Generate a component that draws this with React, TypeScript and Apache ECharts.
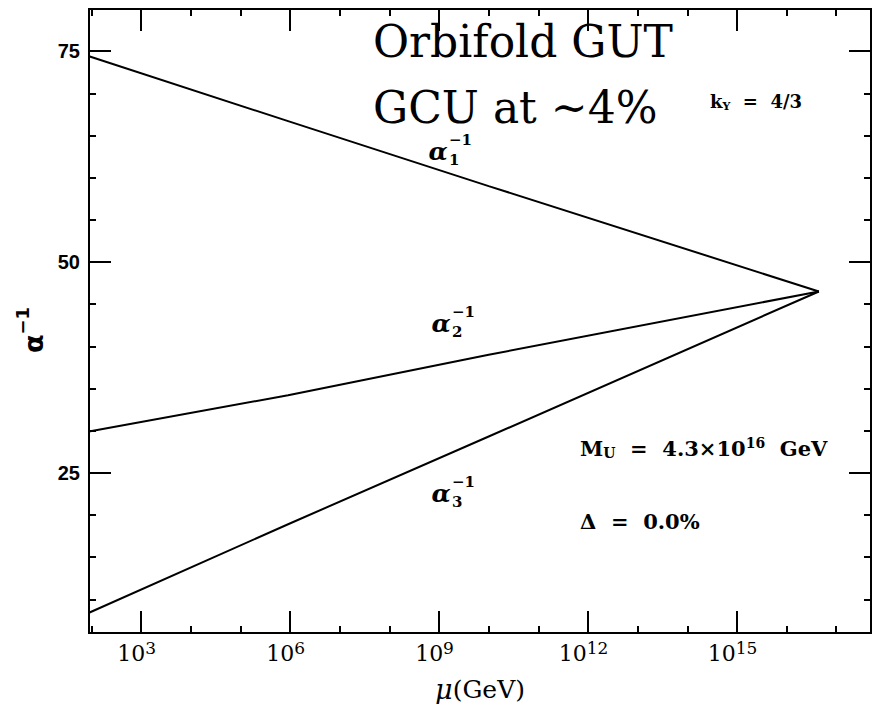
import React, { useEffect, useRef } from "react";
import * as echarts from "echarts";

// log10(mu / GeV) sample points
const logMu = [1.95, 5.96, 10.0, 16.65];
// inverse gauge couplings at those scales
const alpha1Inv = [74.4, 66.7, 59.0, 46.5];
const alpha2Inv = [29.9, 34.2, 39.0, 46.5];
const alpha3Inv = [8.4, 18.9, 29.3, 46.5];

// tick positions
const xMajorTicks = [3, 6, 9, 12, 15];
const xMinorTicks = [2, 4, 5, 7, 8, 10, 11, 13, 14, 16, 17];
const yMajorTicks = [25, 50, 75];
const yMinorTicks = [10, 15, 20, 30, 35, 40, 45, 55, 60, 65, 70];

const X_MIN = 1.95;
const X_MAX = 17.7;
const Y_MIN = 6;
const Y_MAX = 80;

const BLACK = "#000";
const SERIF = "DejaVu Serif";

function makeX(position: string, ticks: number[], len: number, withLabels: boolean): any {
  const ax: any = {
    type: "value",
    min: X_MIN,
    max: X_MAX,
    position,
    axisLine: { show: true, onZero: false, lineStyle: { color: BLACK, width: 2 } },
    axisTick: { show: true, inside: true, length: len, customValues: ticks, lineStyle: { color: BLACK, width: 2 } },
    splitLine: { show: false },
    axisLabel: { show: false },
  };
  if (withLabels) {
    ax.axisLabel = {
      show: true,
      customValues: ticks,
      margin: 6,
      padding: [0, 9, 0, 0],
      formatter: (v: number) => `{b|10}{s|${Math.round(v)}}`,
      rich: {
        b: { fontFamily: SERIF, fontSize: 22, lineHeight: 28, color: BLACK },
        s: { fontFamily: SERIF, fontSize: 17, lineHeight: 13, verticalAlign: "top", color: BLACK },
      },
    };
    ax.name = "{i|μ}(GeV)";
    ax.nameLocation = "middle";
    ax.nameGap = 42;
    ax.nameTextStyle = {
      color: BLACK,
      fontFamily: SERIF,
      fontSize: 25,
      lineHeight: 28,
      rich: {
        i: { fontFamily: SERIF, fontStyle: "italic", fontSize: 27, lineHeight: 28, color: BLACK },
      },
    };
  }
  return ax;
}

function makeY(position: string, ticks: number[], len: number, withLabels: boolean): any {
  const ax: any = {
    type: "value",
    min: Y_MIN,
    max: Y_MAX,
    position,
    axisLine: { show: true, onZero: false, lineStyle: { color: BLACK, width: 2 } },
    axisTick: { show: true, inside: true, length: len, customValues: ticks, lineStyle: { color: BLACK, width: 2 } },
    splitLine: { show: false },
    axisLabel: { show: false },
  };
  if (withLabels) {
    ax.axisLabel = {
      show: true,
      customValues: ticks,
      margin: 9,
      fontFamily: "Liberation Sans",
      fontWeight: "bold",
      fontSize: 20,
      color: BLACK,
    };
    ax.name = "{a|α}{s|−1}";
    ax.nameLocation = "middle";
    ax.nameGap = 28;
    ax.nameTextStyle = {
      color: BLACK,
      padding: [0, 18, 0, 0],
      rich: {
        a: { fontFamily: "DejaVu Sans", fontWeight: "bold", fontSize: 27, lineHeight: 40, color: BLACK },
        s: { fontFamily: "DejaVu Sans", fontWeight: "bold", fontSize: 18, lineHeight: 12, verticalAlign: "top", color: BLACK },
      },
    };
  }
  return ax;
}

function alphaLabel(cx: number, cy: number, idx: string): any {
  return {
    type: "group",
    children: [
      {
        type: "text",
        x: cx,
        y: cy,
        style: { text: "α", fontFamily: SERIF, fontStyle: "italic", fontWeight: "bold", fontSize: 25, fill: BLACK, align: "center", verticalAlign: "middle" },
      },
      {
        type: "text",
        x: cx + 11,
        y: cy + 9,
        style: { text: idx, fontFamily: SERIF, fontWeight: "bold", fontSize: 15, fill: BLACK, align: "left", verticalAlign: "middle" },
      },
      {
        type: "text",
        x: cx + 11,
        y: cy - 11,
        style: { text: "−1", fontFamily: SERIF, fontWeight: "bold", fontSize: 15, fill: BLACK, align: "left", verticalAlign: "middle" },
      },
    ],
  };
}

export default function App() {
  const ref = useRef<HTMLDivElement>(null);

  useEffect(() => {
    if (!ref.current) return;
    const chart = echarts.init(ref.current, null, { renderer: "svg" });
    const lineSeries = (name: string, vals: number[]) => ({
      name,
      type: "line",
      xAxisIndex: 0,
      yAxisIndex: 0,
      symbol: "none",
      showSymbol: false,
      silent: true,
      lineStyle: { color: BLACK, width: 2 },
      data: logMu.map((x, i) => [x, vals[i]]),
      z: 3,
    });
    const option: any = {
      animation: false,
      backgroundColor: "#fff",
      grid: { left: 89, right: 7, top: 9, bottom: 71, containLabel: false, outerBoundsMode: "none" },
      xAxis: [
        makeX("bottom", xMajorTicks, 22, true),
        makeX("bottom", xMinorTicks, 7, false),
        makeX("top", xMajorTicks, 22, false),
        makeX("top", xMinorTicks, 7, false),
      ],
      yAxis: [
        makeY("left", yMajorTicks, 22, true),
        makeY("left", yMinorTicks, 7, false),
        makeY("right", yMajorTicks, 22, false),
        makeY("right", yMinorTicks, 7, false),
      ],
      series: [
        lineSeries("alpha1", alpha1Inv),
        lineSeries("alpha2", alpha2Inv),
        lineSeries("alpha3", alpha3Inv),
      ],
      graphic: [
        {
          type: "text",
          x: 373,
          y: 41,
          style: { text: "Orbifold GUT", fontFamily: SERIF, fontSize: 44, lineHeight: 40, fill: BLACK, align: "left", verticalAlign: "middle" },
        },
        {
          type: "text",
          x: 373,
          y: 107,
          style: { text: "GCU at ~4%", fontFamily: SERIF, fontSize: 44, lineHeight: 40, fill: BLACK, align: "left", verticalAlign: "middle" },
        },
        {
          type: "text",
          x: 710,
          y: 101,
          style: {
            text: "{k|k}{y|Y}{t|  =  4/3}",
            align: "left",
            verticalAlign: "middle",
            rich: {
              k: { fontFamily: SERIF, fontWeight: "bold", fontSize: 18, lineHeight: 22, fill: BLACK },
              y: { fontFamily: SERIF, fontWeight: "bold", fontSize: 11, lineHeight: 12, verticalAlign: "bottom", fill: BLACK },
              t: { fontFamily: SERIF, fontWeight: "bold", fontSize: 18, lineHeight: 22, fill: BLACK },
            },
          },
        },
        {
          type: "text",
          x: 580,
          y: 448,
          style: {
            text: "{m|M}{u|U}{t|  =  4.3×10}{p|16}{t|  GeV}",
            align: "left",
            verticalAlign: "middle",
            rich: {
              m: { fontFamily: SERIF, fontWeight: "bold", fontSize: 21, lineHeight: 24, fill: BLACK },
              u: { fontFamily: SERIF, fontWeight: "bold", fontSize: 14, lineHeight: 8, verticalAlign: "bottom", fill: BLACK },
              t: { fontFamily: SERIF, fontWeight: "bold", fontSize: 21, lineHeight: 24, fill: BLACK },
              p: { fontFamily: SERIF, fontWeight: "bold", fontSize: 14, lineHeight: 14, verticalAlign: "top", fill: BLACK },
            },
          },
        },
        {
          type: "text",
          x: 580,
          y: 521,
          style: { text: "Δ  =  0.0%", fontFamily: SERIF, fontWeight: "bold", fontSize: 21, fill: BLACK, align: "left", verticalAlign: "middle" },
        },
        alphaLabel(438, 151, "1"),
        alphaLabel(441, 323, "2"),
        alphaLabel(441, 493, "3"),
      ],
    };
    chart.setOption(option);
    return () => chart.dispose();
  }, []);

  return <div ref={ref} style={{ position: "fixed", left: 0, top: 0, width: 878, height: 704 }} />;
}
